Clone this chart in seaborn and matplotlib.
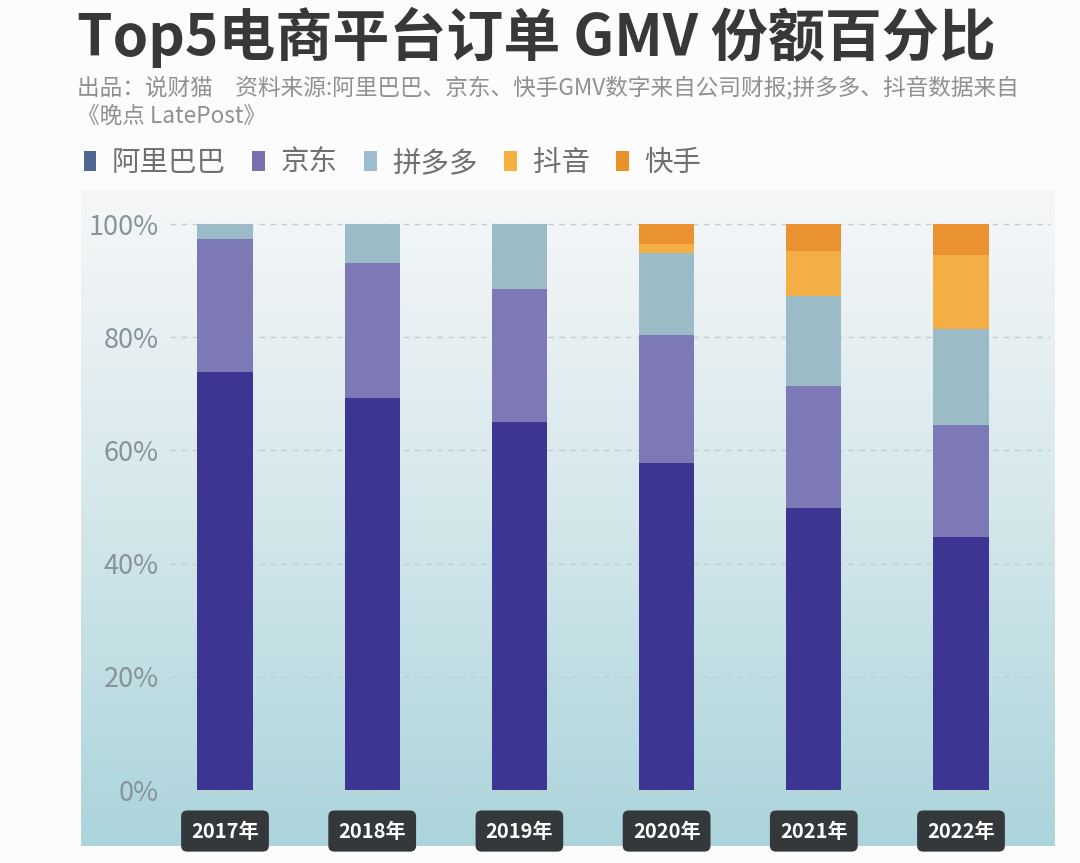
import numpy as np
import pandas as pd
import matplotlib.pyplot as plt
import seaborn as sns
from matplotlib.patches import Patch
from matplotlib.colors import LinearSegmentedColormap

years = ['2017年', '2018年', '2019年', '2020年', '2021年', '2022年']
platforms = ['阿里巴巴', '京东', '拼多多', '抖音', '快手']
alibaba = [73.9, 69.3, 65.0, 57.8, 49.8, 44.7]
jd = [23.4, 23.8, 23.5, 22.6, 21.6, 19.8]
pdd = [2.7, 6.9, 11.5, 14.5, 15.9, 16.9]
douyin = [0.0, 0.0, 0.0, 1.6, 7.9, 13.1]
kuaishou = [0.0, 0.0, 0.0, 3.5, 4.8, 5.5]

bar_colors = ['#3d3592', '#7c79b6', '#9bbbc7', '#f3ae45', '#ea922f']
legend_colors = ['#4f6790', '#7a70b0', '#9cbcd0', '#f5b040', '#e8902a']

TITLE = 'Top5电商平台订单 GMV 份额百分比'
SUBTITLE = ('出品：说财猫　资料来源:阿里巴巴、京东、快手GMV数字来自公司财报;拼多多、抖音数据来自\n'
            '《晚点 LatePost》')


def main():
    sns.set_theme(style='white')
    plt.rcParams['font.family'] = ['Noto Sans CJK SC', 'DejaVu Sans']

    df = pd.DataFrame({'year': years, '阿里巴巴': alibaba, '京东': jd,
                       '拼多多': pdd, '抖音': douyin, '快手': kuaishou})
    cum = df[platforms].cumsum(axis=1) / 100.0

    W, H = 1080, 863
    fig = plt.figure(figsize=(W / 100, H / 100), dpi=100)
    fig.patch.set_facecolor('#fcfcfc')

    # gradient panel behind the plot
    bg = fig.add_axes([81 / W, 1 - 846 / H, (1055 - 81) / W, (846 - 190) / H])
    cmap = LinearSegmentedColormap.from_list('bg', ['#f6f7f8', '#d4e7eb', '#abd4db'])
    bg.imshow(np.linspace(0, 1, 256).reshape(-1, 1), aspect='auto', cmap=cmap,
              extent=[0, 1, 0, 1])
    bg.set_axis_off()

    ax = fig.add_axes([170 / W, 1 - 790 / H, (1050 - 170) / W, (790 - 224) / H])
    ax.patch.set_alpha(0)

    # stacked bars: draw the cumulative tops from last layer down
    for name, color in reversed(list(zip(platforms, bar_colors))):
        sns.barplot(x=df['year'], y=cum[name], color=color, width=0.374,
                    saturation=1, ax=ax, zorder=3, edgecolor='none')

    ax.set_xlim(-0.3736, 5.6046)
    ax.set_ylim(0, 1.0)
    ax.set_yticks([0, 0.2, 0.4, 0.6, 0.8, 1.0])
    ax.set_yticklabels(['0%', '20%', '40%', '60%', '80%', '100%'])
    ax.set_xlabel('')
    ax.set_ylabel('')
    for y in [0, 0.2, 0.4, 0.6, 0.8, 1.0]:
        ax.axhline(y, color='#c3cdd0', lw=1, ls=(0, (4, 4)), zorder=1, clip_on=False)
    for s in ax.spines.values():
        s.set_visible(False)
    ax.tick_params(axis='y', length=0, pad=8, labelsize=19.5, labelcolor='#86939a')
    ax.tick_params(axis='x', length=0, pad=22, labelsize=14.5, labelcolor='white')
    for lab in ax.get_xticklabels():
        lab.set_fontweight('bold')
        lab.set_bbox(dict(boxstyle='round,pad=0.5,rounding_size=0.3',
                          fc='#34383a', ec='none'))

    fig.text(77 / W, 1 - 37 / H, TITLE, fontsize=41, fontweight='bold',
             color='#383838', va='center', ha='left')
    fig.text(77 / W, 1 - 76 / H, SUBTITLE, fontsize=16.3, color='#909090',
             va='top', ha='left', linespacing=1.3)

    handles = [Patch(facecolor=c, edgecolor='none') for c in legend_colors]
    fig.legend(handles, platforms, loc='center left',
               bbox_to_anchor=(58 / W, 1 - 163 / H), ncol=5, frameon=False,
               fontsize=20.5, labelcolor='#707070', handlelength=0.45,
               handleheight=0.7, handletextpad=0.55, columnspacing=0.92)

    fig.savefig('out.png', dpi=100, facecolor=fig.get_facecolor())


if __name__ == '__main__':
    main()
